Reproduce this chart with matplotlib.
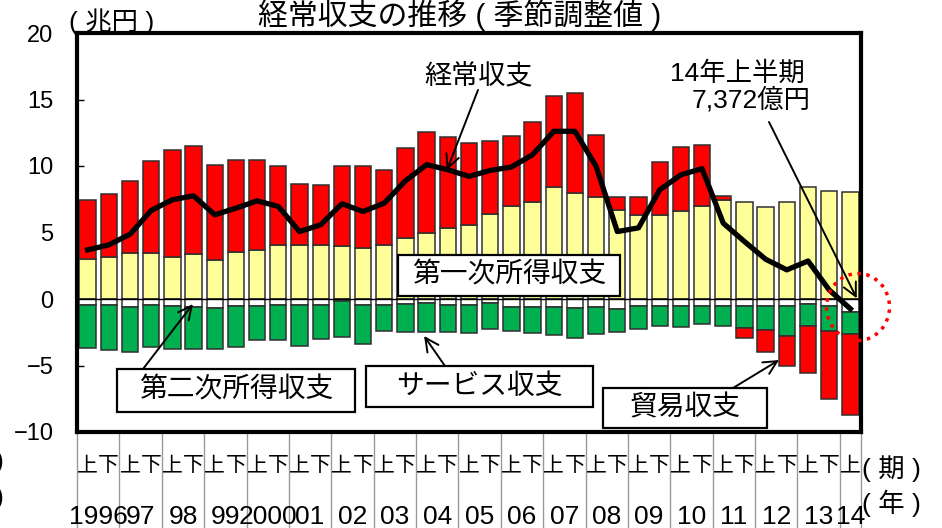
import numpy as np
import matplotlib
matplotlib.use('Agg')
import matplotlib.pyplot as plt
from matplotlib.patches import Rectangle, Ellipse

plt.rcParams['font.family'] = ['Liberation Sans', 'Noto Sans CJK JP']

# half-year periods, 1996 H1 .. 2014 H1 (trillion yen, seasonally adjusted)
halves = ['上', '下'] * 18 + ['上']
years = ['1996', '97', '98', '99', '2000', '01', '02', '03', '04', '05',
         '06', '07', '08', '09', '10', '11', '12', '13', '14']

primary = [2.99, 3.19, 3.44, 3.44, 3.19, 3.39, 2.94, 3.54, 3.67, 4.07,
           4.09, 4.09, 3.97, 3.82, 4.07, 4.57, 5.00, 5.37, 5.58, 6.40,
           7.01, 7.33, 8.41, 7.94, 7.66, 6.70, 6.30, 6.30, 6.63, 7.01,
           7.46, 7.31, 6.88, 7.31, 8.41, 8.14, 8.06]
trade = [4.47, 4.70, 5.45, 6.91, 8.04, 8.14, 7.16, 6.93, 6.80, 5.90,
         4.52, 4.50, 6.00, 6.15, 5.63, 6.81, 7.56, 6.81, 6.15, 5.48,
         5.22, 5.96, 6.89, 7.56, 4.67, 0.96, 1.36, 4.00, 4.82, 4.59,
         0.30, -0.80, -1.61, -2.29, -3.59, -5.10, -6.10]
secondary = [-0.45, -0.45, -0.58, -0.45, -0.53, -0.58, -0.70, -0.50, -0.50, -0.48,
             -0.48, -0.48, -0.12, -0.48, -0.43, -0.40, -0.33, -0.48, -0.48, -0.28,
             -0.58, -0.58, -0.63, -0.70, -0.63, -0.73, -0.55, -0.50, -0.50, -0.50,
             -0.50, -0.50, -0.50, -0.50, -0.40, -0.50, -0.95]
services = [-3.27, -3.39, -3.39, -3.14, -3.26, -3.21, -3.09, -3.14, -2.59, -2.61,
            -3.04, -2.53, -2.77, -2.91, -1.96, -2.11, -2.13, -2.03, -2.11, -1.96,
            -1.81, -1.96, -2.08, -2.22, -2.01, -1.73, -1.72, -1.54, -1.59, -1.38,
            -1.51, -1.66, -1.86, -2.26, -1.61, -1.94, -1.69]
current = [3.69, 4.07, 4.87, 6.66, 7.46, 7.76, 6.33, 6.83, 7.38, 6.96,
           5.07, 5.58, 7.16, 6.58, 7.21, 8.89, 10.10, 9.72, 9.22, 9.67,
           9.92, 10.85, 12.61, 12.61, 9.97, 5.07, 5.35, 8.21, 9.34, 9.80,
           5.70, 4.32, 2.99, 2.19, 2.86, 0.68, -0.74]

RED = '#FF0000'
YELLOW = '#FFFF99'
GREEN = '#00B050'
EDGE = '#303030'

W, H = 942, 528


def fpos(px, py):
    """pixel position -> figure fraction"""
    return px / W, 1 - py / H


fig = plt.figure(figsize=(W / 100, H / 100), dpi=100)
ax = fig.add_axes([77 / W, 1 - 432 / H, (861 - 77) / W, (432 - 33) / H])

x = np.arange(len(primary))
p = np.array(primary)
t = np.array(trade)
s2 = np.array(secondary)
sv = np.array(services)
bw = 0.77
bar_kw = dict(width=bw, edgecolor=EDGE, linewidth=1.1, zorder=2)

ax.bar(x, p, color=YELLOW, **bar_kw)
ax.bar(x, s2, color='white', **bar_kw)
ax.bar(x, sv, bottom=s2, color=GREEN, **bar_kw)
ax.bar(x, t, bottom=np.where(t > 0, p, s2 + sv), color=RED, **bar_kw)

ax.axhline(0, color='black', lw=1, zorder=3)
ax.plot(x, current, color='black', lw=3.8, zorder=4)

ax.set_xlim(-0.5, len(x) - 0.5)
ax.set_ylim(-10, 20)
ax.set_yticks(range(-10, 21, 5))
ax.set_xticks([])
ax.tick_params(axis='y', direction='in', length=5, width=1, pad=17, labelsize=17)
for sp in ax.spines.values():
    sp.set_linewidth(3)
    sp.set_capstyle('projecting')

# period / year labels under the axis
xt = ax.get_xaxis_transform()
for i, h in enumerate(halves):
    ax.text(i, -0.085, h, transform=xt, ha='center', va='center', fontsize=15)
for k, yr in enumerate(years):
    pos = 2 * k + 0.5 if k < len(years) - 1 else 2 * k
    ax.text(pos, -0.213, yr, transform=xt, ha='center', va='center', fontsize=19)
bounds = list(np.arange(-0.5, len(x), 2)) + [len(x) - 0.5]
for xb in bounds:
    ax.plot([xb, xb], [0, -0.26], transform=xt, color='#999999', lw=1, clip_on=False)

fig.text(*fpos(862, 469), '( 期 )', ha='left', va='center', fontsize=19)
fig.text(*fpos(862, 503), '( 年 )', ha='left', va='center', fontsize=19)
fig.text(*fpos(-5, 462), ')', ha='left', va='center', fontsize=19)
fig.text(*fpos(-5, 498), ')', ha='left', va='center', fontsize=19)

fig.text(*fpos(460, 15), '経常収支の推移 ( 季節調整値 )', ha='center', va='center',
         fontsize=21.5)
fig.text(*fpos(112, 22), '( 兆円 )', ha='center', va='center', fontsize=19)

# labelled boxes
boxes = [
    ('第一次所得収支', 398, 255, 620, 296),
    ('第二次所得収支', 117, 369, 355, 412),
    ('サービス収支', 366, 366, 593, 407),
    ('貿易収支', 603, 388, 767, 428),
]
for label, x0, y0, x1, y1 in boxes:
    fig.add_artist(Rectangle(fpos(x0, y1), (x1 - x0) / W, (y1 - y0) / H,
                             transform=fig.transFigure, facecolor='white',
                             edgecolor='black', lw=1.6, zorder=5))
    fig.text(*fpos((x0 + x1) / 2, (y0 + y1) / 2), label, ha='center', va='center',
             fontsize=20, zorder=6)

fig.text(*fpos(479, 76), '経常収支', ha='center', va='center', fontsize=19.5)
fig.text(*fpos(737, 74), '14年上半期', ha='center', va='center', fontsize=19)
fig.text(*fpos(751, 100), '7,372億円', ha='center', va='center', fontsize=19)

arrow_kw = dict(arrowstyle='->', lw=1.4, color='black', mutation_scale=24,
                shrinkA=0, shrinkB=0)
arrows = [
    ((16.96, 9.7), (478, 90)),
    ((36.3, 0.05), (769, 122)),
    ((4.97, -0.38), (143, 369)),
    ((15.88, -2.78), (445, 366)),
    ((32.63, -4.59), (733, 388)),
]
for xy, (px, py) in arrows:
    ax.annotate('', xy=xy, xytext=fpos(px, py), textcoords='figure fraction',
                arrowprops=arrow_kw, annotation_clip=False, zorder=5)

fig.add_artist(Ellipse(fpos(858, 307), 63 / W, 67 / H, transform=fig.transFigure,
                       fill=False, edgecolor='red', lw=2.5, linestyle=(0, (1, 1.6)),
                       zorder=7))

fig.savefig('out.png', dpi=100)
